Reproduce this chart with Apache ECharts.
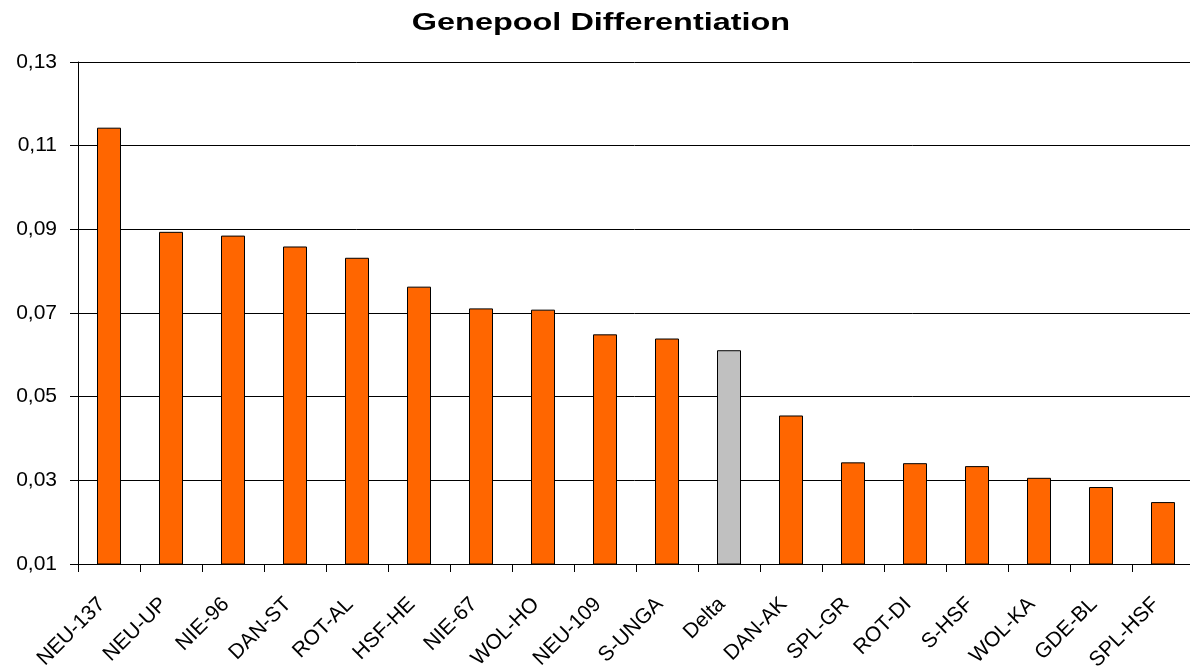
<!DOCTYPE html>
<html>
<head>
<meta charset="utf-8">
<script src="https://cdn.jsdelivr.net/npm/echarts@6/dist/echarts.min.js"></script>
<style>html,body{margin:0;padding:0;background:#fff;}#c{width:1190px;height:672px;}</style>
</head>
<body>
<div id="c"></div>
<script>
const titleText = 'Genepool Differentiation';
const categories = ['NEU-137','NEU-UP','NIE-96','DAN-ST','ROT-AL','HSF-HE','NIE-67','WOL-HO','NEU-109','S-UNGA','Delta','DAN-AK','SPL-GR','ROT-DI','S-HSF','WOL-KA','GDE-BL','SPL-HSF'];
const values = [0.1143,0.0894,0.0885,0.0859,0.0832,0.0763,0.0711,0.0708,0.0649,0.0639,0.0611,0.0455,0.0343,0.0341,0.0334,0.0306,0.0284,0.0248];
const highlight = 'Delta';
const yMin = 0.01, yMax = 0.13, yStep = 0.02;

const FONT = "'Liberation Sans', Arial, sans-serif";
const chart = echarts.init(document.getElementById('c'), null, {renderer:'canvas'});
chart.setOption({
  animation:false,
  backgroundColor:'#ffffff',
  graphic:[{type:'text',x:601,y:24,scaleX:1.41,scaleY:1,silent:true,
    style:{text:titleText,x:0,y:0,textAlign:'center',textVerticalAlign:'middle',
      fontFamily:FONT,fontWeight:'bold',fontSize:23,fill:'#000'}}],
  grid:{left:78,top:62,width:1116,height:502,containLabel:false,outerBoundsMode:'none'},
  xAxis:{type:'category',data:categories,
    axisLine:{lineStyle:{color:'#000',width:1}},
    axisTick:{show:true,length:8,alignWithLabel:false,lineStyle:{color:'#000'}},
    axisLabel:{rotate:45,interval:0,margin:30,padding:[0,10,0,0],fontFamily:FONT,fontSize:21,color:'#000'}
  },
  yAxis:{type:'value',min:yMin,max:yMax,interval:yStep,
    axisLine:{show:true,lineStyle:{color:'#000',width:1}},
    axisTick:{show:true,length:8,lineStyle:{color:'#000'}},
    splitLine:{show:true,lineStyle:{color:'#000',width:1}},
    axisLabel:{margin:21,fontFamily:FONT,fontSize:21,color:'#000',formatter:v=>v.toFixed(2).replace('.',',')}
  },
  series:[{type:'bar',barWidth:24,
    data:values.map((v,i)=>({value:v,itemStyle:{color:categories[i]===highlight?'#C0C0C0':'#FF6600'}})),
    itemStyle:{borderColor:'#000',borderWidth:1}
  }]
});
</script>
</body>
</html>
